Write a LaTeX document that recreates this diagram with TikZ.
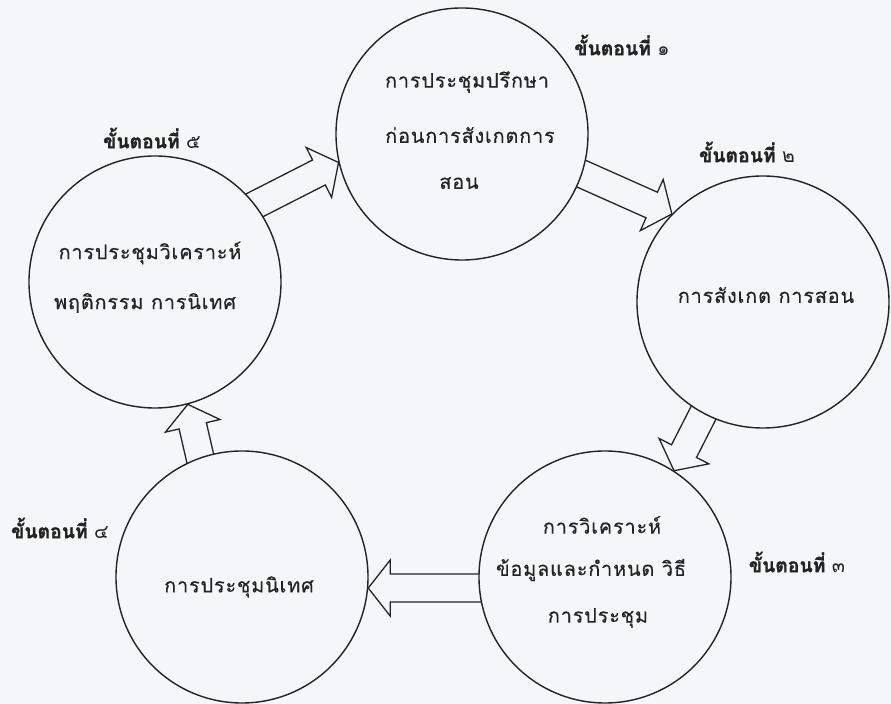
\documentclass[tikz,border=0pt]{standalone}
\usepackage{fontspec}
\newfontfamily\thai[Script=Thai,LetterSpace=4,FakeBold=0.3]{Loma}
\newfontfamily\thailab[Script=Thai,BoldFeatures={FakeBold=1.2}]{Loma}
\usetikzlibrary{calc}
\pgfdeclarelayer{bg}
\pgfsetlayers{bg,main}
\definecolor{paper}{RGB}{244,246,248}
\definecolor{ink}{RGB}{35,35,35}
\tikzset{
  stage/.style={circle, draw=ink, fill=paper, line width=1.2pt, minimum size=7.56cm, inner sep=0pt},
  ctext/.style={font=\thai\fontsize{17}{20}\selectfont, text=ink, inner sep=0pt},
  lab/.style={font=\thailab\bfseries\fontsize{16.5}{18}\selectfont, text=ink, inner sep=0pt},
  blk/.style={draw=ink, line width=1.1pt, line join=miter, fill=paper},
}
\newcommand\blockarrow[3]{%
  \begin{pgfonlayer}{bg}
  \draw[blk] ($(#1)+({#2+180}:#3)+({#2+90}:14)$) -- ($(#1)+({#2+180}:22)+({#2+90}:14)$)
    -- ($(#1)+({#2+180}:22)+({#2+90}:28)$) -- (#1)
    -- ($(#1)+({#2+180}:22)+({#2-90}:28)$) -- ($(#1)+({#2+180}:22)+({#2-90}:14)$)
    -- ($(#1)+({#2+180}:#3)+({#2-90}:14)$);
  \end{pgfonlayer}}
\begin{document}
\begin{tikzpicture}[x=0.03cm,y=0.03cm]
\begin{pgfonlayer}{bg}
  \fill[paper] (0,0) rectangle (891,704);
\end{pgfonlayer}
\useasboundingbox (0,0) rectangle (891,704);
% stages
\node[stage] (c1) at (462,570) {};
\node[stage] (c2) at (763,402) {};
\node[stage] (c3) at (605,127) {};
\node[stage] (c4) at (242,127) {};
\node[stage] (c5) at (155,422) {};
% texts
\node[ctext] (t1a) at (467,622) {การประชุมปรึกษา};
\node[ctext] (t1b) at (470,569) {ก่อนการสังเกตการ};
\node[ctext] (t1c) at (459,521) {สอน};
\node[ctext] (t2a) at (766,409) {การสังเกต การสอน};
\node[ctext] (t3a) at (602,179) {การวิเคราะห์};
\node[ctext] (t3b) at (591,134) {ข้อมูลและกำหนด วิธี};
\node[ctext] (t3c) at (598,86) {การประชุม};
\node[ctext] (t4a) at (239,117) {การประชุมนิเทศ};
\node[ctext] (t5a) at (150,451) {การประชุมวิเคราะห์};
\node[ctext] (t5b) at (145,401) {พฤติกรรม การนิเทศ};
% labels
\node[lab] (l1) at (622,659) {ขั้นตอนที่ {\mdseries ๑}};
\node[lab] (l2) at (747,552) {ขั้นตอนที่ {\mdseries ๒}};
\node[lab] (l3) at (797,142) {ขั้นตอนที่ {\mdseries ๓}};
\node[lab] (l4) at (60,176) {ขั้นตอนที่ {\mdseries ๔}};
\node[lab] (l5) at (152,566) {ขั้นตอนที่ {\mdseries ๕}};
% arrows
\coordinate (p51) at (c1.193);
\coordinate (p12) at (c2.136);
\coordinate (p23) at (c3.57.6);
\coordinate (p34) at (c4.-5);
\coordinate (p45) at (c5.-75.4);
\blockarrow{p51}{27}{140}
\blockarrow{p12}{-24}{140}
\blockarrow{p23}{243}{110}
\blockarrow{p34}{180}{150}
\blockarrow{p45}{103}{100}
\end{tikzpicture}
\end{document}
